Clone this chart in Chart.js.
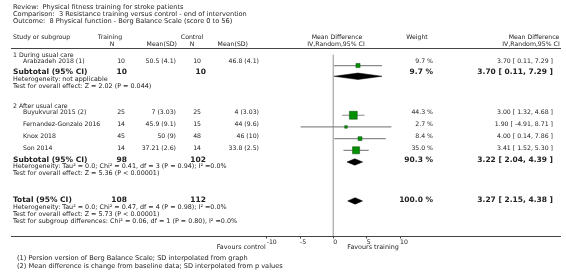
<!DOCTYPE html>
<html><head><meta charset="utf-8">
<script src="https://cdn.jsdelivr.net/npm/chart.js@4.4.0/dist/chart.umd.min.js"></script>
<style>html,body{margin:0;padding:0;background:#fff;}canvas{display:block;}</style>
</head><body>
<canvas id="c" width="566" height="280"></canvas>
<script>
// ---------- DATA ----------
const titleLines = ["Review:  Physical fitness training for stroke patients",
  "Comparison:  3 Resistance training versus control - end of intervention",
  "Outcome:  8 Physical function - Berg Balance Scale (score 0 to 56)"];
const groupNames = ["1 During usual care", "2 After usual care"];
const studies = ["Arabzadeh 2018 (1)", "Buyukvural 2015 (2)", "Fernandez-Gonzalo 2016", "Knox 2018", "Son 2014"];
const trainN = [10, 25, 14, 45, 14];
const trainMeanSD = ["50.5 (4.1)", "7 (3.03)", "45.9 (9.1)", "50 (9)", "37.21 (2.6)"];
const ctrlN = [10, 25, 15, 48, 14];
const ctrlMeanSD = ["46.8 (4.1)", "4 (3.03)", "44 (9.6)", "46 (10)", "33.8 (2.5)"];
const weights = [9.7, 44.3, 2.7, 8.4, 35.0];
const md = [3.70, 3.00, 1.90, 4.00, 3.41];
const ciLow = [0.11, 1.32, -4.91, 0.14, 1.52];
const ciHigh = [7.29, 4.68, 8.71, 7.86, 5.30];
const subTrainN = [10, 98];
const subCtrlN = [10, 102];
const subWeight = [9.7, 90.3];
const subMd = [3.70, 3.22];
const subLow = [0.11, 2.04];
const subHigh = [7.29, 4.39];
const subHet = ["Heterogeneity: not applicable",
  "Heterogeneity: Tau\u00b2 = 0.0; Chi\u00b2 = 0.41, df = 3 (P = 0.94); I\u00b2 =0.0%"];
const subTest = ["Test for overall effect: Z = 2.02 (P = 0.044)",
  "Test for overall effect: Z = 5.36 (P < 0.00001)"];
const totalTrainN = 108, totalCtrlN = 112, totalWeight = 100.0;
const totalMd = 3.27, totalLow = 2.15, totalHigh = 4.38;
const totalNotes = ["Heterogeneity: Tau\u00b2 = 0.0; Chi\u00b2 = 0.47, df = 4 (P = 0.98); I\u00b2 =0.0%",
  "Test for overall effect: Z = 5.73 (P < 0.00001)",
  "Test for subgroup differences: Chi\u00b2 = 0.06, df = 1 (P = 0.80), I\u00b2 =0.0%"];
const footnotes = ["(1) Persion version of Berg Balance Scale; SD interpolated from graph",
  "(2) Mean difference is change from baseline data; SD interpolated from p values"];
const axisTicks = [-10, -5, 0, 5, 10];
const axisLabels = ["Favours control", "Favours training"];

// ---------- LAYOUT ----------
const Y = {
  title: [7, 14, 21], head1: 37, head2: 44, headLine: 48.5,
  group: [55, 106], study: [61, 112, 124, 136, 148],
  sub: [72, 160], subHet: [79, 166.5], subTest: [86, 173],
  total: 200, totalNotes: [207, 214, 221], axis: 236.5,
  favours: 247.5, foot: [258, 266.5]
};
const FONT = '"DejaVu Sans", sans-serif';
const FS = 6.2, FB = 7.5, FT = 6.6, FH = 6.4;
const TXT = '#222';
const fmt = (m, l, h) => m.toFixed(2) + ' [ ' + l.toFixed(2) + ', ' + h.toFixed(2) + ' ]';

// ---------- DATASETS ----------
const datasets = [];
// zero line
datasets.push({data: [{x: 0, y: 50}, {x: 0, y: 236}], showLine: true, borderColor: '#b4b4b4', borderWidth: 1, pointRadius: 0, order: 10});
// CI lines
studies.forEach((s, i) => datasets.push({
  data: [{x: ciLow[i], y: Y.study[i]}, {x: ciHigh[i], y: Y.study[i]}],
  showLine: true, borderColor: '#8a8a8a', borderWidth: 1.2, pointRadius: 0, order: 5
}));
// squares (side proportional to sqrt(weight))
datasets.push({
  data: md.map((m, i) => ({x: m, y: Y.study[i]})),
  pointStyle: 'rect',
  pointRadius: weights.map(w => Math.sqrt(w) * 1.05 / Math.SQRT2 + 0.6),
  backgroundColor: '#009000', borderColor: '#1d5a1d', borderWidth: 0.6, order: 1
});
// diamonds
const diamond = (m, l, h, y, hh) => ({
  data: [{x: l, y: y}, {x: m, y: y - hh}, {x: h, y: y}, {x: m, y: y + hh}, {x: l, y: y}],
  showLine: true, fill: 'shape', backgroundColor: '#000', borderColor: '#000', borderWidth: 0.5, pointRadius: 0, order: 0
});
subMd.forEach((m, i) => datasets.push(diamond(m, subLow[i], subHigh[i], Y.sub[i], 3.3)));
datasets.push(diamond(totalMd, totalLow, totalHigh, Y.total, 3.3));

// ---------- TEXT PLUGIN ----------
const textPlugin = {
  id: 'forestText',
  beforeDatasetsDraw(chart) {
    const ctx = chart.ctx;
    ctx.save();
    ctx.strokeStyle = '#444'; ctx.lineWidth = 1;
    ctx.beginPath();
    ctx.moveTo(11, Y.headLine); ctx.lineTo(561, Y.headLine);
    ctx.moveTo(11, Y.axis); ctx.lineTo(561, Y.axis);
    ctx.stroke();
    ctx.restore();
  },
  afterDraw(chart) {
    const ctx = chart.ctx;
    const t = (s, x, y, align, bold, size) => {
      ctx.font = (bold ? 'bold ' : '') + (size || (bold ? FB : FS)) + 'px ' + FONT;
      ctx.textAlign = align || 'left';
      ctx.textBaseline = 'middle';
      ctx.fillStyle = TXT;
      ctx.fillText(s, x, y);
    };
    ctx.save();
    titleLines.forEach((s, i) => t(s, 13, Y.title[i], 'left', false, FT));
    // headers
    t('Study or subgroup', 13, Y.head1);
    t('Training', 110, Y.head1, 'center');
    t('N', 112, Y.head2, 'center');
    t('Mean(SD)', 177, Y.head2, 'right');
    t('Control', 192, Y.head1, 'center');
    t('N', 192, Y.head2, 'center');
    t('Mean(SD)', 248, Y.head2, 'right');
    t('Mean Difference', 337, Y.head1, 'center');
    t('IV,Random,95% CI', 336, Y.head2, 'center');
    t('Weight', 417, Y.head1, 'center');
    t('Mean Difference', 534, Y.head1, 'center');
    t('IV,Random,95% CI', 531, Y.head2, 'center');
    // groups
    const groupStudies = [[0], [1, 2, 3, 4]];
    groupNames.forEach((g, gi) => {
      t(g, 13, Y.group[gi]);
      groupStudies[gi].forEach(i => {
        const y = Y.study[i];
        t(studies[i], 23, y);
        t(String(trainN[i]), 125, y, 'right');
        t(trainMeanSD[i], 176, y, 'right');
        t(String(ctrlN[i]), 201, y, 'right');
        t(ctrlMeanSD[i], 259, y, 'right');
        t(weights[i].toFixed(1) + ' %', 433, y, 'right');
        t(fmt(md[i], ciLow[i], ciHigh[i]), 553, y, 'right');
      });
      const ys = Y.sub[gi];
      t('Subtotal (95% CI)', 13, ys, 'left', true);
      t(String(subTrainN[gi]), 127, ys, 'right', true);
      t(String(subCtrlN[gi]), 206, ys, 'right', true);
      t(subWeight[gi].toFixed(1) + ' %', 433, ys, 'right', true);
      t(fmt(subMd[gi], subLow[gi], subHigh[gi]), 553, ys, 'right', true);
      t(subHet[gi], 13, Y.subHet[gi], 'left', false, FH);
      t(subTest[gi], 13, Y.subTest[gi], 'left', false, FH);
    });
    t('Total (95% CI)', 13, Y.total, 'left', true);
    t(String(totalTrainN), 127, Y.total, 'right', true);
    t(String(totalCtrlN), 206, Y.total, 'right', true);
    t(totalWeight.toFixed(1) + ' %', 433, Y.total, 'right', true);
    t(fmt(totalMd, totalLow, totalHigh), 553, Y.total, 'right', true);
    totalNotes.forEach((s, i) => t(s, 13, Y.totalNotes[i], 'left', false, FH));
    const xs = chart.scales.x;
    t(axisLabels[0], xs.getPixelForValue(axisTicks[0]) - 1, Y.favours, 'right', false, FH);
    t(axisLabels[1], xs.getPixelForValue(axisTicks[2]) + 14, Y.favours, 'left', false, FH);
    footnotes.forEach((s, i) => t(s, 17, Y.foot[i], 'left', false, FT));
    ctx.restore();
  }
};

new Chart(document.getElementById('c'), {
  type: 'scatter',
  data: {datasets},
  options: {
    responsive: false, animation: false, devicePixelRatio: 1,
    layout: {padding: {left: 266.67, right: 166, top: 0, bottom: 0}},
    plugins: {legend: {display: false}, tooltip: {enabled: false}},
    elements: {line: {tension: 0}},
    scales: {
      x: {
        type: 'linear', min: axisTicks[0], max: axisTicks[axisTicks.length - 1],
        afterFit: s => { s.height = 280 - 236.5; },
        afterBuildTicks: s => { s.ticks = axisTicks.map(v => ({value: v})); },
        grid: {drawOnChartArea: false, drawTicks: true, tickLength: 2, color: '#444'},
        border: {display: true, color: '#444'},
        ticks: {align: 'start', padding: 0, color: TXT, font: {family: FONT, size: FS}, maxRotation: 0, autoSkip: false}
      },
      y: {type: 'linear', min: 0, max: 236.5, reverse: true, display: false}
    }
  },
  plugins: [textPlugin]
});
</script>
</body></html>
